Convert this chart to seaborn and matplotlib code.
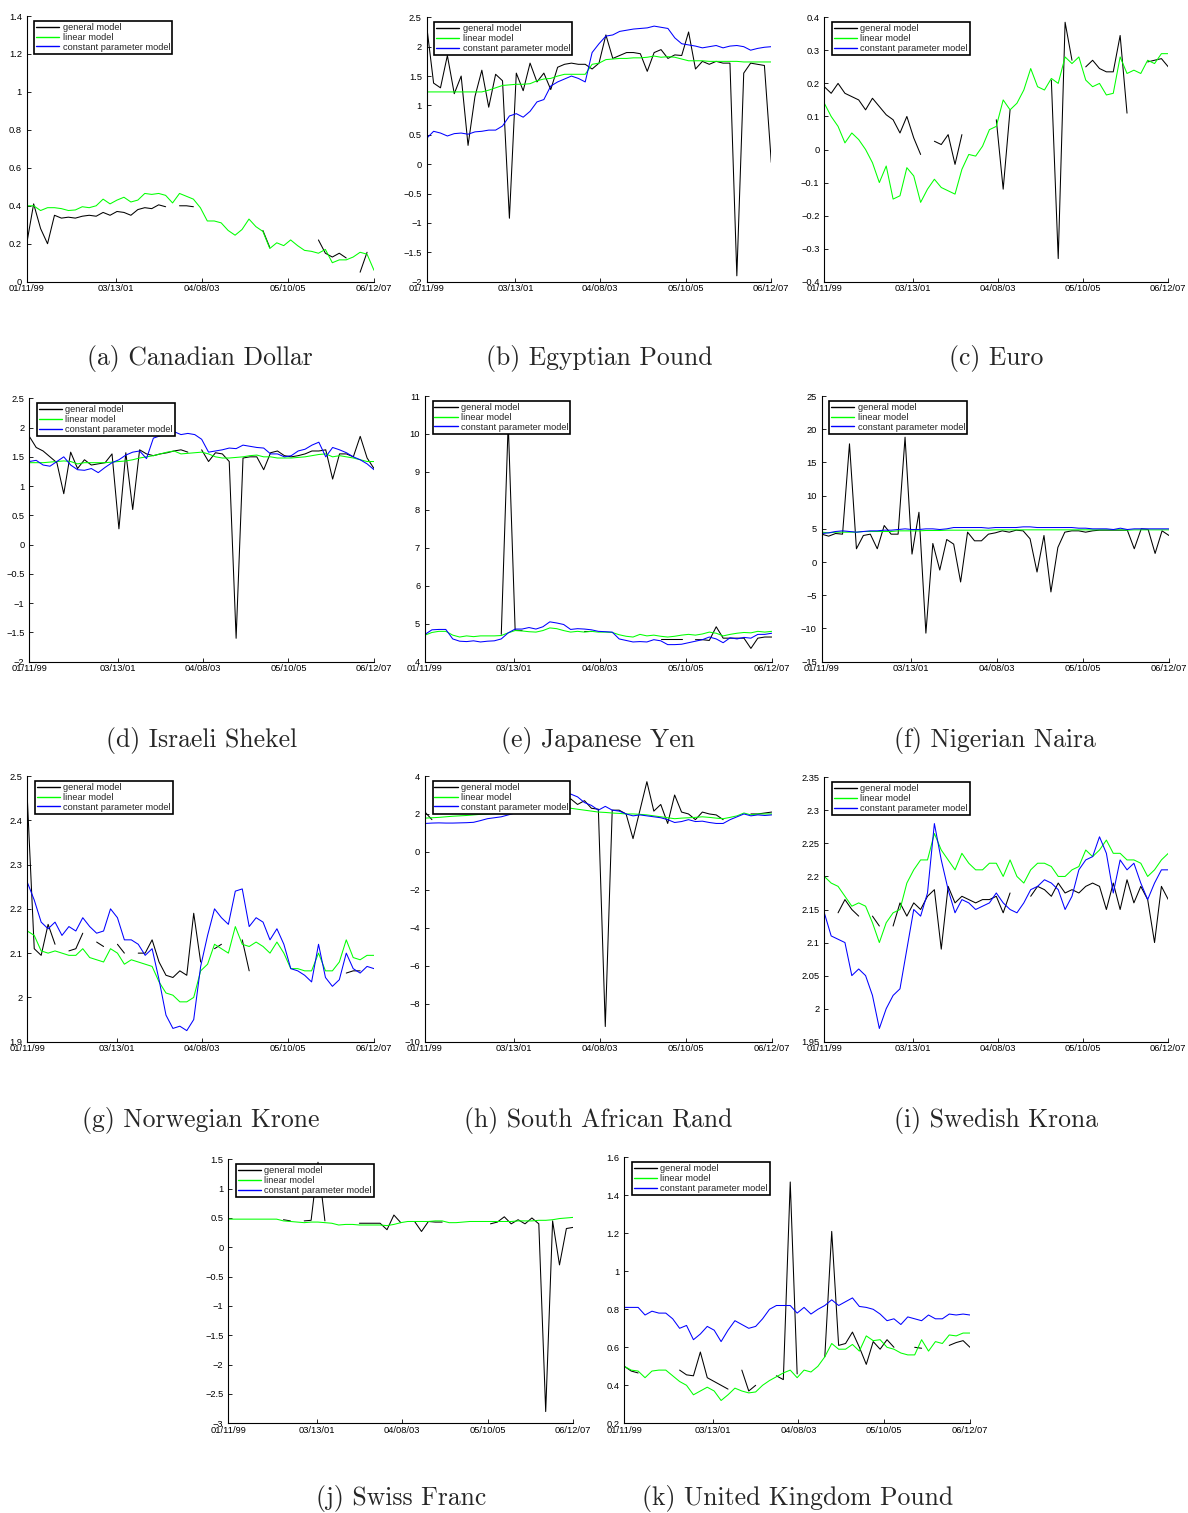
import numpy as np
import pandas as pd
import matplotlib
matplotlib.use("Agg")
import matplotlib.pyplot as plt
import matplotlib.dates as mdates
from matplotlib.lines import Line2D
from matplotlib.ticker import FuncFormatter
import seaborn as sns

N = np.nan

# ---------------- data ----------------
START, END, NPTS = "1999-01-11", "2007-06-12", 51
TICK_DATES = ["1999-01-11", "2001-03-13", "2003-04-08", "2005-05-10", "2007-06-12"]
MODELS = ["general model", "linear model", "constant parameter model"]
COLORS = ["#000000", "#00ff00", "#0000ff"]

CAPTIONS = ["(a) Canadian Dollar", "(b) Egyptian Pound", "(c) Euro",
            "(d) Israeli Shekel", "(e) Japanese Yen", "(f) Nigerian Naira",
            "(g) Norwegian Krone", "(h) South African Rand", "(i) Swedish Krona",
            "(j) Swiss Franc", "(k) United Kingdom Pound"]

CAD_GEN = [0.20, 0.41, 0.28, 0.20, 0.35, 0.335, 0.34, 0.335, 0.345, 0.35,
           0.345, 0.365, 0.35, 0.37, 0.365, 0.35, 0.38, 0.39, 0.385, 0.405,
           0.395, N, 0.40, 0.40, 0.395, N, N, N, N, N,
           N, N, N, N, 0.27, 0.18, N, N, N, N,
           N, N, 0.22, 0.15, 0.13, 0.15, 0.125, N, 0.05, 0.155, N]
CAD_LIN = [0.40, 0.40, 0.375, 0.39, 0.39, 0.385, 0.375, 0.378, 0.395, 0.39,
           0.40, 0.435, 0.41, 0.43, 0.445, 0.42, 0.43, 0.465, 0.46, 0.465,
           0.455, 0.415, 0.465, 0.45, 0.435, 0.39, 0.32, 0.32, 0.31, 0.27,
           0.245, 0.275, 0.33, 0.29, 0.265, 0.175, 0.205, 0.19, 0.22, 0.19,
           0.165, 0.16, 0.15, 0.17, 0.10, 0.115, 0.115, 0.13, 0.155, 0.145, 0.06]
CAD_CONST = None

EGP_GEN = [2.35, 1.38, 1.30, 1.85, 1.20, 1.50, 0.32, 1.15, 1.60, 0.97,
           1.53, 1.42, -0.92, 1.55, 1.25, 1.72, 1.40, 1.55, 1.27, 1.65,
           1.70, 1.72, 1.70, 1.70, 1.62, 1.72, 2.20, 1.80, 1.85, 1.90,
           1.90, 1.88, 1.58, 1.90, 1.95, 1.80, 1.86, 1.85, 2.25, 1.62,
           1.75, 1.70, 1.75, 1.72, 1.72, -1.90, 1.55, 1.72, 1.70, 1.68, 0.03]
EGP_LIN = [1.23, 1.23, 1.23, 1.23, 1.23, 1.23, 1.23, 1.23, 1.23, 1.26,
           1.30, 1.34, 1.35, 1.36, 1.36, 1.37, 1.42, 1.45, 1.46, 1.50,
           1.53, 1.53, 1.53, 1.53, 1.70, 1.72, 1.78, 1.79, 1.80, 1.80,
           1.81, 1.81, 1.82, 1.84, 1.82, 1.83, 1.82, 1.79, 1.76, 1.76,
           1.76, 1.75, 1.75, 1.75, 1.75, 1.75, 1.74, 1.74, 1.74, 1.74, 1.74]
EGP_CONST = [0.44, 0.56, 0.53, 0.48, 0.52, 0.53, 0.51, 0.55, 0.56, 0.58,
             0.58, 0.65, 0.82, 0.86, 0.80, 0.90, 1.06, 1.10, 1.33, 1.40,
             1.45, 1.50, 1.46, 1.40, 1.90, 2.05, 2.18, 2.20, 2.26, 2.28,
             2.30, 2.31, 2.32, 2.35, 2.33, 2.31, 2.15, 2.05, 2.03, 2.01,
             1.98, 2.00, 2.02, 1.98, 2.01, 2.02, 2.00, 1.94, 1.97, 1.99, 2.00]

EUR_GEN = [0.19, 0.17, 0.20, 0.17, 0.16, 0.15, 0.12, 0.155, 0.13, 0.105,
           0.09, 0.05, 0.10, 0.035, -0.015, N, 0.025, 0.015, 0.045, -0.045,
           0.045, N, N, N, N, 0.09, -0.12, 0.12, N, N,
           N, N, N, 0.21, -0.33, 0.385, 0.27, N, 0.25, 0.27,
           0.245, 0.235, 0.235, 0.345, 0.11, N, N, 0.265, 0.27, 0.275, 0.25]
EUR_LIN = [0.14, 0.10, 0.07, 0.02, 0.05, 0.03, 0.0, -0.04, -0.10, -0.05,
           -0.15, -0.14, -0.055, -0.08, -0.16, -0.12, -0.09, -0.115, -0.125, -0.135,
           -0.06, -0.015, -0.02, 0.01, 0.06, 0.07, 0.15, 0.12, 0.14, 0.18,
           0.245, 0.19, 0.18, 0.215, 0.20, 0.28, 0.26, 0.28, 0.21, 0.19,
           0.20, 0.165, 0.17, 0.28, 0.23, 0.24, 0.23, 0.27, 0.26, 0.29, 0.29]
EUR_CONST = None

ILS_GEN = [1.85, 1.66, 1.60, 1.50, 1.40, 0.87, 1.58, 1.30, 1.45, 1.36,
           1.38, 1.40, 1.55, 0.27, 1.57, 0.60, 1.62, 1.55, 1.52, 1.55,
           1.57, 1.60, 1.62, 1.58, N, 1.62, 1.42, 1.57, 1.55, 1.42,
           -1.60, 1.48, 1.50, 1.50, 1.28, 1.57, 1.60, 1.52, 1.50, 1.52,
           1.55, 1.60, 1.60, 1.62, 1.12, 1.55, 1.55, 1.50, 1.85, 1.48, 1.30]
ILS_LIN = [1.40, 1.40, 1.40, 1.41, 1.42, 1.43, 1.42, 1.38, 1.40, 1.40,
           1.40, 1.40, 1.41, 1.42, 1.43, 1.45, 1.48, 1.50, 1.52, 1.55,
           1.58, 1.60, 1.55, 1.56, 1.57, 1.58, 1.55, 1.50, 1.48, 1.48,
           1.49, 1.50, 1.52, 1.53, 1.50, 1.50, 1.48, 1.48, 1.48, 1.49,
           1.50, 1.52, 1.54, 1.55, 1.50, 1.52, 1.50, 1.48, 1.45, 1.42, 1.42]
ILS_CONST = [1.42, 1.44, 1.36, 1.34, 1.42, 1.50, 1.36, 1.28, 1.27, 1.30,
             1.23, 1.32, 1.40, 1.45, 1.53, 1.58, 1.60, 1.47, 1.82, 1.86,
             1.90, 1.93, 1.88, 1.90, 1.88, 1.80, 1.58, 1.60, 1.62, 1.65,
             1.64, 1.70, 1.68, 1.66, 1.65, 1.55, 1.55, 1.50, 1.52, 1.60,
             1.63, 1.70, 1.75, 1.50, 1.66, 1.62, 1.57, 1.50, 1.45, 1.38, 1.28]

JPY_GEN = [N, N, N, N, N, N, N, N, N, N,
           N, 4.72, 10.3, 4.83, 4.82, N, N, N, N, N,
           N, N, N, 4.80, 4.80, N, N, N, N, N,
           N, N, N, N, 4.60, 4.60, 4.60, 4.60, N, 4.58,
           4.58, 4.56, 4.92, 4.62, 4.62, 4.62, 4.62, 4.35, 4.62, 4.65, 4.65]
JPY_LIN = [4.70, 4.77, 4.80, 4.80, 4.70, 4.65, 4.68, 4.66, 4.68, 4.68,
           4.68, 4.69, 4.76, 4.82, 4.81, 4.79, 4.78, 4.82, 4.89, 4.87,
           4.82, 4.78, 4.80, 4.78, 4.80, 4.78, 4.78, 4.77, 4.71, 4.67,
           4.65, 4.72, 4.68, 4.70, 4.67, 4.65, 4.67, 4.70, 4.72, 4.70,
           4.73, 4.78, 4.75, 4.68, 4.72, 4.75, 4.77, 4.76, 4.80, 4.78, 4.80]
JPY_CONST = [4.72, 4.84, 4.85, 4.85, 4.60, 4.54, 4.53, 4.55, 4.52, 4.54,
             4.55, 4.60, 4.76, 4.86, 4.86, 4.90, 4.86, 4.92, 5.05, 5.02,
             4.98, 4.85, 4.87, 4.86, 4.84, 4.80, 4.79, 4.78, 4.60, 4.56,
             4.52, 4.53, 4.52, 4.58, 4.55, 4.45, 4.45, 4.46, 4.50, 4.54,
             4.58, 4.65, 4.60, 4.50, 4.63, 4.60, 4.64, 4.62, 4.72, 4.72, 4.75]

NGN_GEN = [4.2, 3.9, 4.3, 4.2, 17.8, 2.0, 4.0, 4.2, 2.0, 5.5,
           4.2, 4.2, 18.8, 1.2, 7.5, -10.7, 2.8, -1.2, 3.4, 2.7,
           -3.0, 4.5, 3.2, 3.2, 4.2, 4.4, 4.7, 4.5, 4.8, 4.7,
           3.5, -1.5, 4.0, -4.5, 2.2, 4.5, 4.7, 4.7, 4.5, 4.7,
           4.8, 4.8, 4.8, 4.8, 4.8, 2.0, 5.0, 4.9, 1.3, 4.7, 4.0]
NGN_LIN = [4.5, 4.4, 4.5, 4.5, 4.5, 4.5, 4.6, 4.6, 4.6, 4.6,
           4.6, 4.7, 4.7, 4.7, 4.7, 4.75, 4.75, 4.75, 4.8, 4.8,
           4.8, 4.8, 4.8, 4.8, 4.8, 4.85, 4.85, 4.85, 4.85, 4.85,
           4.85, 4.85, 4.85, 4.85, 4.85, 4.85, 4.85, 4.85, 4.85, 4.85,
           4.85, 4.85, 4.85, 4.85, 4.8, 4.85, 4.85, 4.85, 4.85, 4.85, 4.85]
NGN_CONST = [4.3, 4.4, 4.6, 4.7, 4.6, 4.5, 4.6, 4.7, 4.7, 4.8,
             4.8, 4.9, 5.0, 4.9, 4.9, 5.0, 5.0, 4.9, 5.0, 5.2,
             5.2, 5.2, 5.2, 5.2, 5.1, 5.2, 5.2, 5.2, 5.2, 5.3,
             5.3, 5.2, 5.2, 5.2, 5.2, 5.2, 5.2, 5.1, 5.1, 5.0,
             5.0, 5.0, 4.9, 5.1, 4.9, 5.0, 5.0, 5.0, 5.0, 5.0, 5.0]

NOK_GEN = [2.45, 2.11, 2.095, 2.165, 2.12, N, 2.105, 2.11, 2.145, N,
           2.125, 2.115, N, 2.12, 2.10, N, 2.10, 2.10, 2.13, 2.08,
           2.05, 2.045, 2.06, 2.05, 2.19, 2.08, N, 2.11, 2.12, N,
           N, 2.13, 2.06, N, N, N, N, N, N, N,
           N, N, N, N, N, N, 2.055, 2.06, 2.06, N, N]
NOK_LIN = [2.15, 2.14, 2.105, 2.10, 2.105, 2.10, 2.095, 2.095, 2.11, 2.09,
           2.085, 2.08, 2.11, 2.10, 2.075, 2.085, 2.08, 2.075, 2.07, 2.035,
           2.01, 2.005, 1.99, 1.99, 2.0, 2.06, 2.075, 2.12, 2.11, 2.10,
           2.16, 2.12, 2.115, 2.125, 2.115, 2.10, 2.125, 2.10, 2.065, 2.065,
           2.06, 2.06, 2.10, 2.06, 2.06, 2.08, 2.13, 2.09, 2.085, 2.095, 2.095]
NOK_CONST = [2.26, 2.22, 2.17, 2.155, 2.17, 2.14, 2.16, 2.15, 2.18, 2.16,
             2.145, 2.15, 2.20, 2.18, 2.13, 2.13, 2.12, 2.095, 2.11, 2.04,
             1.96, 1.93, 1.935, 1.925, 1.95, 2.07, 2.14, 2.20, 2.18, 2.165,
             2.24, 2.245, 2.16, 2.18, 2.17, 2.13, 2.155, 2.12, 2.065, 2.06,
             2.05, 2.035, 2.12, 2.045, 2.025, 2.04, 2.10, 2.065, 2.055, 2.07, 2.065]

ZAR_GEN = [2.1, 1.7, N, N, N, N, N, N, N, N,
           N, N, N, N, N, N, N, N, 2.3, 2.4,
           2.5, 2.8, 2.5, 2.7, 2.3, 2.25, -9.2, 2.2, 2.2, 2.0,
           0.7, 2.2, 3.7, 2.15, 2.5, 1.5, 3.0, 2.1, 2.0, 1.7,
           2.1, 2.0, 1.95, 1.7, N, N, N, 2.0, 2.0, 2.05, 2.1]
ZAR_LIN = [1.78, 1.80, 1.82, 1.85, 1.88, 1.90, 1.92, 1.95, 1.98, 2.00,
           2.02, 2.05, 2.08, 2.12, 2.15, 2.20, 2.25, 2.30, 2.33, 2.35,
           2.35, 2.30, 2.25, 2.20, 2.15, 2.10, 2.08, 2.05, 2.03, 2.00,
           2.00, 1.98, 1.95, 1.90, 1.85, 1.80, 1.75, 1.78, 1.80, 1.82,
           1.85, 1.82, 1.78, 1.75, 1.82, 1.90, 2.05, 1.95, 2.00, 2.00, 2.00]
ZAR_CONST = [1.50, 1.52, 1.53, 1.52, 1.52, 1.53, 1.54, 1.56, 1.65, 1.75,
             1.80, 1.85, 1.95, 2.05, 2.15, 2.30, 2.50, 2.70, 2.90, 3.05,
             3.10, 3.05, 2.90, 2.60, 2.45, 2.20, 2.40, 2.20, 2.15, 2.00,
             1.90, 1.95, 1.90, 1.85, 1.80, 1.70, 1.55, 1.60, 1.70, 1.60,
             1.62, 1.55, 1.50, 1.50, 1.70, 1.85, 2.00, 1.90, 1.95, 1.92, 1.95]

SEK_GEN = [2.155, N, 2.145, 2.165, 2.15, 2.14, N, 2.14, 2.125, N,
           2.125, 2.16, 2.14, 2.16, 2.15, 2.17, 2.18, 2.09, 2.185, 2.16,
           2.17, 2.165, 2.16, 2.165, 2.165, 2.17, 2.145, 2.175, N, N,
           2.17, 2.185, 2.18, 2.17, 2.19, 2.175, 2.18, 2.175, 2.185, 2.19,
           2.185, 2.15, 2.19, 2.15, 2.195, 2.16, 2.185, 2.165, 2.10, 2.185, 2.165]
SEK_LIN = [2.20, 2.19, 2.185, 2.17, 2.155, 2.16, 2.155, 2.13, 2.10, 2.13,
           2.145, 2.15, 2.19, 2.21, 2.225, 2.225, 2.265, 2.24, 2.225, 2.21,
           2.235, 2.22, 2.21, 2.21, 2.22, 2.22, 2.20, 2.225, 2.20, 2.19,
           2.21, 2.22, 2.22, 2.215, 2.20, 2.20, 2.21, 2.215, 2.24, 2.23,
           2.24, 2.255, 2.235, 2.235, 2.225, 2.225, 2.22, 2.20, 2.21, 2.225, 2.235]
SEK_CONST = [2.145, 2.11, 2.105, 2.10, 2.05, 2.06, 2.05, 2.02, 1.97, 2.0,
             2.02, 2.03, 2.09, 2.15, 2.14, 2.175, 2.28, 2.225, 2.18, 2.145,
             2.165, 2.16, 2.15, 2.155, 2.16, 2.175, 2.16, 2.15, 2.145, 2.16,
             2.18, 2.185, 2.195, 2.19, 2.18, 2.15, 2.17, 2.21, 2.225, 2.23,
             2.26, 2.235, 2.175, 2.225, 2.21, 2.22, 2.19, 2.165, 2.19, 2.21, 2.21]

CHF_GEN = [N, N, N, N, N, N, N, N, 0.47, 0.45,
           N, 0.45, 0.46, 1.45, 0.45, N, N, N, N, 0.41,
           0.41, 0.41, 0.41, 0.30, 0.55, 0.42, N, 0.44, 0.27, 0.44,
           0.43, 0.43, N, N, N, N, N, N, 0.40, 0.43,
           0.52, 0.40, 0.47, 0.40, 0.50, 0.40, -2.8, 0.45, -0.3, 0.32, 0.34]
CHF_LIN = [0.48, 0.48, 0.48, 0.48, 0.48, 0.48, 0.48, 0.48, 0.45, 0.44,
           0.43, 0.42, 0.43, 0.43, 0.42, 0.41, 0.38, 0.39, 0.39, 0.38,
           0.38, 0.38, 0.38, 0.37, 0.39, 0.42, 0.44, 0.44, 0.44, 0.44,
           0.45, 0.45, 0.42, 0.42, 0.43, 0.44, 0.44, 0.44, 0.44, 0.44,
           0.44, 0.44, 0.45, 0.45, 0.45, 0.46, 0.46, 0.47, 0.49, 0.50, 0.51]
CHF_CONST = None

GBP_GEN = [0.50, 0.475, 0.465, N, N, N, N, N, 0.48, 0.455,
           0.45, 0.575, 0.44, 0.42, 0.40, 0.38, N, 0.48, 0.37, 0.40,
           N, N, 0.45, 0.43, 1.47, 0.46, N, N, N, 0.55,
           1.21, 0.61, 0.62, 0.68, 0.60, 0.51, 0.63, 0.59, 0.64, 0.60,
           N, N, 0.60, 0.595, N, N, N, 0.61, 0.625, 0.635, 0.60]
GBP_LIN = [0.50, 0.48, 0.475, 0.44, 0.475, 0.48, 0.48, 0.45, 0.42, 0.40,
           0.35, 0.37, 0.39, 0.37, 0.32, 0.35, 0.385, 0.37, 0.36, 0.365,
           0.40, 0.425, 0.445, 0.465, 0.48, 0.44, 0.48, 0.47, 0.50, 0.55,
           0.62, 0.59, 0.59, 0.615, 0.58, 0.66, 0.635, 0.64, 0.60, 0.59,
           0.57, 0.56, 0.56, 0.64, 0.58, 0.63, 0.62, 0.665, 0.66, 0.675, 0.675]
GBP_CONST = [0.81, 0.81, 0.81, 0.77, 0.79, 0.78, 0.78, 0.75, 0.70, 0.715,
             0.64, 0.67, 0.71, 0.69, 0.63, 0.69, 0.74, 0.72, 0.70, 0.71,
             0.75, 0.80, 0.82, 0.82, 0.82, 0.78, 0.81, 0.775, 0.80, 0.82,
             0.85, 0.82, 0.84, 0.86, 0.815, 0.81, 0.80, 0.775, 0.74, 0.75,
             0.72, 0.76, 0.75, 0.74, 0.77, 0.75, 0.75, 0.775, 0.77, 0.775, 0.77]

SERIES = [(CAD_GEN, CAD_LIN, CAD_CONST), (EGP_GEN, EGP_LIN, EGP_CONST),
          (EUR_GEN, EUR_LIN, EUR_CONST), (ILS_GEN, ILS_LIN, ILS_CONST),
          (JPY_GEN, JPY_LIN, JPY_CONST), (NGN_GEN, NGN_LIN, NGN_CONST),
          (NOK_GEN, NOK_LIN, NOK_CONST), (ZAR_GEN, ZAR_LIN, ZAR_CONST),
          (SEK_GEN, SEK_LIN, SEK_CONST), (CHF_GEN, CHF_LIN, CHF_CONST),
          (GBP_GEN, GBP_LIN, GBP_CONST)]

# y-axis range and tick step per panel
Y_AXES = [(0, 1.4, 0.2), (-2, 2.5, 0.5), (-0.4, 0.4, 0.1),
          (-2, 2.5, 0.5), (4, 11, 1), (-15, 25, 5),
          (1.9, 2.5, 0.1), (-10, 4, 2), (1.95, 2.35, 0.05),
          (-3, 1.5, 0.5), (0.2, 1.6, 0.2)]

# ---------------- layout (pixels: left, top, right, bottom) ----------------
W, H = 1188, 1513
BOXES = [(26.7, 16.0, 374.0, 281.7), (426.7, 17.3, 771.3, 281.7), (824.3, 17.3, 1168.3, 281.7),
         (29.3, 398.3, 374.0, 661.7), (425.0, 396.0, 771.7, 661.7), (821.7, 396.0, 1169.0, 661.7),
         (27.3, 776.0, 374.0, 1041.7), (425.0, 776.0, 771.7, 1041.7), (824.3, 777.3, 1168.3, 1041.7),
         (228.3, 1159.3, 573.3, 1423.3), (624.3, 1157.3, 970.0, 1423.3)]
CAPTION_Y = [359, 359, 359, 740, 740, 740, 1120, 1120, 1120, 1499, 1499]

sns.set_theme(style="ticks")
plt.rcParams["font.family"] = ["Liberation Sans", "DejaVu Sans"]

fig = plt.figure(figsize=(W / 100, H / 100), dpi=100)
fig.patch.set_facecolor("white")
dates = pd.date_range(START, END, periods=NPTS)
ticks = pd.to_datetime(TICK_DATES)


def yfmt(v, pos):
    return f"{round(v, 6):g}".replace("-", "\u2212")


for i, (series, (y0, y1, ys)) in enumerate(zip(SERIES, Y_AXES)):
    l, t, r, b = BOXES[i]
    ax = fig.add_axes([l / W, 1 - b / H, (r - l) / W, (b - t) / H])
    ax.set_facecolor("white")
    for vals, color in zip(series, COLORS):
        if vals is None:
            continue
        v = np.asarray(vals, dtype=float)
        ok = ~np.isnan(v)
        df = pd.DataFrame({"date": dates, "value": v, "seg": np.cumsum(~ok)})[ok]
        sns.lineplot(data=df, x="date", y="value", units="seg", estimator=None,
                     color=color, linewidth=0.75, ax=ax, legend=False)
    ax.set_xlabel("")
    ax.set_ylabel("")
    ax.set_xlim(dates[0], dates[-1])
    ax.set_ylim(y0, y1)
    ax.set_yticks(np.linspace(y0, y1, int(round((y1 - y0) / ys)) + 1))
    ax.yaxis.set_major_formatter(FuncFormatter(yfmt))
    ax.set_xticks(ticks)
    ax.xaxis.set_major_formatter(mdates.DateFormatter("%m/%d/%y"))
    sns.despine(ax=ax)
    for s in ("left", "bottom"):
        ax.spines[s].set_color("black")
        ax.spines[s].set_linewidth(0.8)
    ax.tick_params(axis="both", direction="in", length=3, width=0.6,
                   labelsize=6.7, colors="black")
    ax.tick_params(axis="y", pad=3.5)
    ax.tick_params(axis="x", pad=2)

    handles = [Line2D([], [], color=c, lw=1.0) for c in COLORS]
    leg = ax.legend(handles, MODELS, loc="upper left",
                    bbox_to_anchor=(7.6 / (r - l), 1 - 5 / (b - t)),
                    borderaxespad=0, fontsize=6.7, frameon=True, fancybox=False,
                    edgecolor="black", framealpha=1, borderpad=0.2,
                    labelspacing=0.1, handlelength=2.5, handletextpad=0.35)
    leg.get_frame().set_linewidth(1.2)

    fig.text(((l + r) / 2) / W, 1 - CAPTION_Y[i] / H, CAPTIONS[i],
             ha="center", va="center", fontsize=18.5, family="cmr10")

fig.savefig("out.png", dpi=100, facecolor="white")
